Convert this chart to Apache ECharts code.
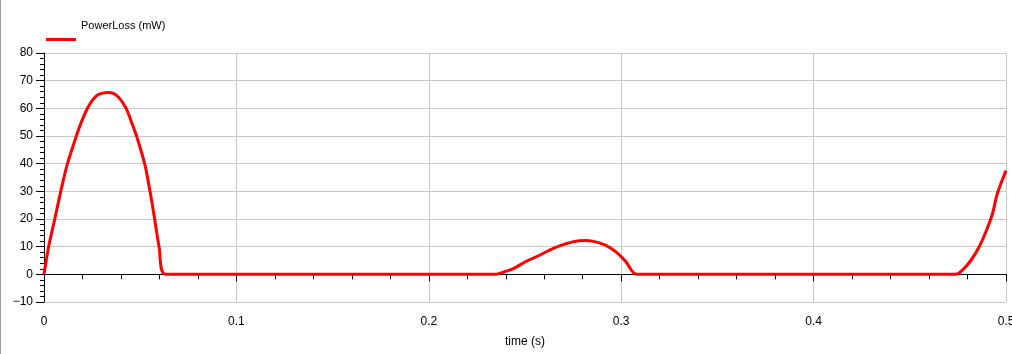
<!DOCTYPE html>
<html>
<head>
<meta charset="utf-8">
<script src="https://cdn.jsdelivr.net/npm/echarts@6/dist/echarts.min.js"></script>
<style>
html,body{margin:0;padding:0;background:#fff;}
#chart{width:1012px;height:354px;}
</style>
</head>
<body>
<div id="chart"></div>
<script>
var seriesName = 'PowerLoss (mW)';
var xAxisName = 'time (s)';
var timeValues = [0, 0.0024, 0.0056, 0.0087, 0.0122, 0.0168, 0.0194, 0.0222, 0.0250, 0.0278, 0.0305, 0.0333, 0.0360, 0.0385, 0.0410, 0.0430, 0.0455, 0.0481, 0.0523, 0.0551, 0.0575, 0.0598, 0.0632,
  0.2342, 0.240, 0.2437, 0.2506, 0.2575, 0.2644, 0.2714, 0.278, 0.2815, 0.285, 0.292, 0.2973, 0.3025, 0.308,
  0.4739, 0.4773, 0.4817, 0.486, 0.4895, 0.493, 0.4955, 0.5];
var powerValues = [0, 10, 20, 30, 40, 50, 55, 59.5, 62.8, 64.8, 65.5, 65.7, 65.4, 64.2, 62.0, 59.5, 55.0, 50, 40, 30, 20, 10, 0,
  0, 1.1, 2, 4.7, 6.9, 9.3, 11.1, 12.1, 12.2, 12, 10.5, 8.1, 4.5, 0,
  0, 1.5, 5, 9.9, 15.3, 22, 29.2, 37.5];

var pairs = timeValues.map(function (t, i) { return [t, powerValues[i]]; });
var font = 'Liberation Sans, Arial, sans-serif';

var chart = echarts.init(document.getElementById('chart'));
chart.setOption({
  animation: false,
  backgroundColor: '#ffffff',
  graphic: [{
    type: 'rect', left: 0, top: 0,
    shape: { width: 1, height: 354 },
    style: { fill: '#a0a0a0' }
  }],
  legend: {
    left: 46, top: 10, padding: 0,
    itemWidth: 30, itemHeight: 31,
    data: [{ name: seriesName, icon: 'path://M0,0 L30,0 L30,0 Z M0,28 L30,28 L30,31 L0,31 Z' }],
    itemStyle: { color: '#ff0000' },
    textStyle: { fontFamily: font, fontSize: 11, color: '#000' }
  },
  grid: { left: 44, right: 6, top: 53, bottom: 52, containLabel: false, outerBoundsMode: 'none' },
  xAxis: {
    type: 'value', min: 0, max: 0.5, interval: 0.1,
    name: xAxisName, nameLocation: 'middle', nameGap: 34,
    nameTextStyle: { fontFamily: font, fontSize: 12, color: '#000' },
    axisLine: { show: true, lineStyle: { color: '#000', width: 1 } },
    axisTick: { show: true, length: 7, lineStyle: { color: '#000' } },
    minorTick: { show: true, splitNumber: 5, length: 5, lineStyle: { color: '#000' } },
    axisLabel: { fontFamily: font, fontSize: 12, color: '#000', margin: 14 },
    splitLine: { show: true, lineStyle: { color: '#c8c8c8', width: 1 } }
  },
  yAxis: {
    type: 'value', min: -10, max: 80, interval: 10,
    axisLine: { show: true, lineStyle: { color: '#000', width: 1 } },
    axisTick: { show: true, length: 8, lineStyle: { color: '#000' } },
    minorTick: { show: true, splitNumber: 5, length: 4, lineStyle: { color: '#000' } },
    axisLabel: {
      fontFamily: font, fontSize: 12, color: '#000', margin: 11,
      formatter: function (v) { return String(v).replace('-', '\u2212'); }
    },
    splitLine: { show: true, lineStyle: { color: '#c8c8c8', width: 1 } }
  },
  series: [{
    name: seriesName,
    type: 'line',
    data: pairs,
    showSymbol: false,
    smooth: 0.3,
    lineStyle: { color: '#ff0000', width: 3 },
    itemStyle: { color: '#ff0000' }
  }]
});
</script>
</body>
</html>
